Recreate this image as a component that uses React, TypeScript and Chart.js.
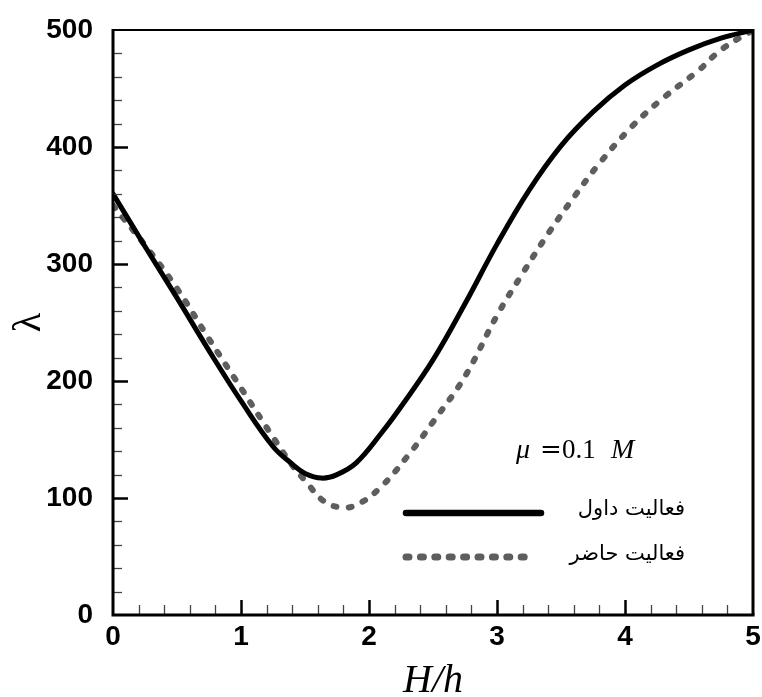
import React, { useEffect, useRef } from 'react';
import { Chart, registerables } from 'chart.js';

Chart.register(...registerables);

// Solid curve (فعالیت داول)
const xSolid = [0, 0.25, 0.5, 0.75, 1, 1.25, 1.4, 1.5, 1.63, 1.75, 1.9, 2.1, 2.25, 2.5, 2.75, 3, 3.25, 3.5, 3.75, 4, 4.25, 4.5, 4.75, 5];
const ySolid = [360, 315, 271, 226, 183, 144, 129, 121, 117, 120, 130, 156, 178, 218, 266, 317, 363, 401, 430, 453, 470, 483, 493, 500];

// Dotted curve (فعالیت حاضر)
const xDotted = [0, 0.25, 0.5, 0.75, 1, 1.25, 1.4, 1.5, 1.65, 1.78, 1.9, 2.08, 2.31, 2.5, 2.75, 3, 3.2, 3.4, 3.6, 3.8, 4.05, 4.3, 4.57, 4.75, 5];
const yDotted = [350, 316, 279, 236, 194, 152, 128, 115, 97, 92, 94, 108, 137, 165, 204, 256, 292, 326, 357, 386, 417, 442, 465, 483, 500];

const xTickValues = [0, 1, 2, 3, 4, 5];
const yTickValues = [0, 100, 200, 300, 400, 500];
const xMinorStep = 0.2;
const yMinorStep = 20;

const legendLabels = ['فعالیت داول', 'فعالیت حاضر'];
const xTitle = 'H/h';
const yTitle = 'λ';
const annotationParts = ['μ', '=', '0.1', 'M'];

const SOLID_COLOR = '#000000';
const DOTTED_COLOR = '#5e5e5e';

const toPoints = (xs: number[], ys: number[]) => xs.map((x, i) => ({ x, y: ys[i] }));

const decorPlugin = {
  id: 'decor',
  afterDraw(chart: any) {
    const { ctx, chartArea, scales } = chart;
    const { left, right, top, bottom } = chartArea;
    const xs = scales.x;
    const ys = scales.y;
    ctx.save();

    // minor / major ticks (inward)
    ctx.lineCap = 'butt';
    for (let v = yMinorStep; v < 500 - 1e-6; v += yMinorStep) {
      const py = Math.round(ys.getPixelForValue(v)) + 0.5;
      const major = Math.abs(v % 100) < 1e-6;
      ctx.strokeStyle = major ? '#000' : '#444';
      ctx.lineWidth = major ? 2.5 : 1.3;
      ctx.beginPath();
      ctx.moveTo(left, py);
      ctx.lineTo(left + (major ? 15 : 9), py);
      ctx.stroke();
    }
    for (let i = 1; i < 25; i++) {
      const v = i * xMinorStep;
      const px = Math.round(xs.getPixelForValue(v)) + 0.5;
      const major = i % 5 === 0;
      ctx.strokeStyle = major ? '#000' : '#444';
      ctx.lineWidth = major ? 2.5 : 1.3;
      ctx.beginPath();
      ctx.moveTo(px, bottom);
      ctx.lineTo(px, bottom - (major ? 15 : 10));
      ctx.stroke();
    }

    // frame
    ctx.strokeStyle = '#000';
    ctx.lineWidth = 2;
    ctx.beginPath();
    ctx.moveTo(left, top);
    ctx.lineTo(right, top);
    ctx.stroke();
    ctx.lineWidth = 3;
    ctx.beginPath();
    ctx.moveTo(right, top - 1);
    ctx.lineTo(right, bottom);
    ctx.stroke();
    ctx.beginPath();
    ctx.moveTo(left, top - 1);
    ctx.lineTo(left, bottom + 1.5);
    ctx.moveTo(left - 1.5, bottom);
    ctx.lineTo(right + 1.5, bottom);
    ctx.stroke();

    // axis titles
    ctx.fillStyle = '#000';
    ctx.font = 'italic 40px "Liberation Serif"';
    ctx.textAlign = 'center';
    ctx.textBaseline = 'alphabetic';
    ctx.fillText(xTitle, (left + right) / 2, 692);

    ctx.save();
    ctx.translate(29, (top + bottom) / 2);
    ctx.rotate(-Math.PI / 2);
    ctx.font = '40px "Liberation Serif"';
    ctx.textAlign = 'center';
    ctx.textBaseline = 'middle';
    ctx.fillText(yTitle, 0, 0);
    ctx.restore();

    // annotation μ = 0.1 M
    ctx.textAlign = 'left';
    ctx.textBaseline = 'alphabetic';
    const ay = 458;
    const fonts = ['italic 28px "Liberation Serif"', '26px "DejaVu Serif"', '27px "Liberation Serif"', 'italic 28px "Liberation Serif"'];
    const startX = [516, 540, 562, 611];
    annotationParts.forEach((p, i) => {
      ctx.font = fonts[i];
      ctx.fillText(p, startX[i], ay);
    });

    // legend
    ctx.lineCap = 'round';
    ctx.strokeStyle = SOLID_COLOR;
    ctx.lineWidth = 6.5;
    ctx.setLineDash([]);
    ctx.beginPath();
    ctx.moveTo(406, 513);
    ctx.lineTo(541, 513);
    ctx.stroke();

    ctx.strokeStyle = DOTTED_COLOR;
    ctx.lineWidth = 7;
    ctx.setLineDash([3, 11.4]);
    ctx.beginPath();
    ctx.moveTo(406, 557);
    ctx.lineTo(532, 557);
    ctx.stroke();
    ctx.setLineDash([]);

    ctx.fillStyle = '#000';
    ctx.font = '21px "DejaVu Sans"';
    ctx.textAlign = 'right';
    ctx.textBaseline = 'middle';
    ctx.fillText(legendLabels[0], 685, 510);
    ctx.fillText(legendLabels[1], 685, 555);

    ctx.restore();
  },
};

export default function App() {
  const canvasRef = useRef<HTMLCanvasElement | null>(null);

  useEffect(() => {
    const canvas = canvasRef.current;
    if (!canvas) return;
    const tickFont = { family: '"Liberation Sans", Arial, sans-serif', size: 28, weight: 'bold' as const, lineHeight: 1 };
    const chart = new Chart(canvas, {
      type: 'line',
      data: {
        datasets: [
          {
            label: legendLabels[0],
            data: toPoints(xSolid, ySolid),
            borderColor: SOLID_COLOR,
            borderWidth: 5,
            pointRadius: 0,
            tension: 0.4,
            fill: false,
            borderCapStyle: 'round',
            borderJoinStyle: 'round',
          },
          {
            label: legendLabels[1],
            data: toPoints(xDotted, yDotted),
            borderColor: DOTTED_COLOR,
            borderWidth: 6,
            borderDash: [3, 12],
            borderCapStyle: 'round',
            pointRadius: 0,
            tension: 0.4,
            fill: false,
          },
        ],
      },
      options: {
        animation: false,
        responsive: false,
        maintainAspectRatio: false,
        layout: { padding: { left: 0, right: 9, top: 30, bottom: 0 } },
        plugins: {
          legend: { display: false },
          tooltip: { enabled: false },
          title: { display: false },
        },
        scales: {
          x: {
            type: 'linear',
            min: 0,
            max: 5,
            afterFit: (scale: any) => {
              scale.height = 82;
              scale.paddingLeft = 0;
              scale.paddingRight = 0;
            },
            afterBuildTicks: (scale: any) => {
              scale.ticks = xTickValues.map((v) => ({ value: v }));
            },
            grid: { display: false, drawTicks: false },
            border: { display: false },
            ticks: {
              padding: 8,
              color: '#000',
              font: tickFont,
              maxRotation: 0,
            },
          },
          y: {
            type: 'linear',
            min: 0,
            max: 500,
            afterFit: (scale: any) => {
              scale.width = 113;
              scale.paddingTop = 0;
              scale.paddingBottom = 0;
            },
            afterBuildTicks: (scale: any) => {
              scale.ticks = yTickValues.map((v) => ({ value: v }));
            },
            grid: { display: false, drawTicks: false },
            border: { display: false },
            ticks: {
              padding: 20,
              color: '#000',
              font: tickFont,
            },
          },
        },
      },
      plugins: [decorPlugin],
    });
    return () => chart.destroy();
  }, []);

  return (
    <div style={{ position: 'fixed', left: 0, top: 0, width: 762, height: 697, background: '#fff' }}>
      <canvas ref={canvasRef} width={762} height={697} style={{ width: 762, height: 697, display: 'block' }} />
    </div>
  );
}
